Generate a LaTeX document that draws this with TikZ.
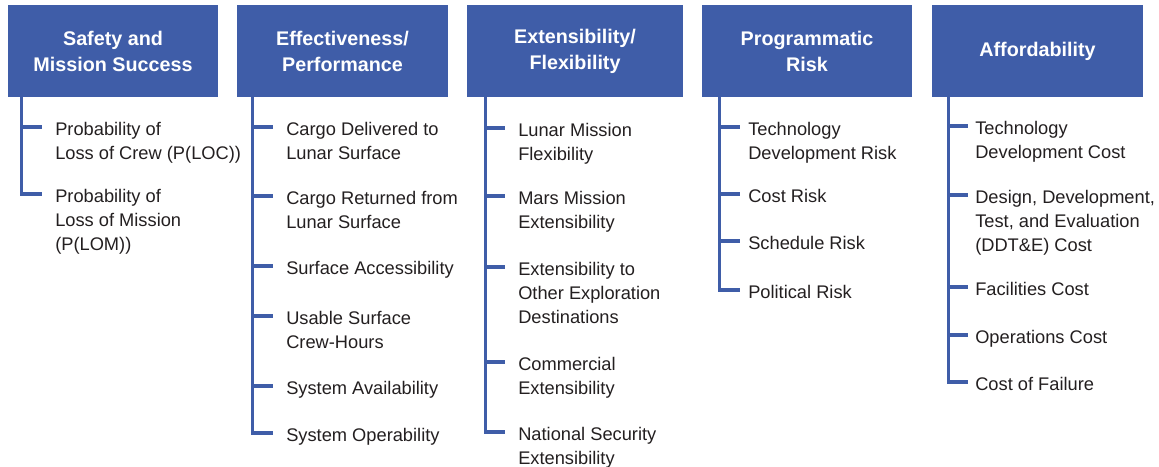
\documentclass[tikz,border=0pt]{standalone}
\usepackage{fontspec}
\setmainfont{Liberation Sans}
\usetikzlibrary{calc}
\definecolor{hblue}{HTML}{3F5DA8}
\definecolor{ink}{HTML}{231F20}
\tikzset{
  hdr/.style={fill=hblue, draw=none, text=white, align=center, inner sep=0pt,
    minimum height=69pt, font=\fontsize{14.8}{19.5}\selectfont\bfseries},
  item/.style={anchor=base west, inner sep=0pt, text=ink,
    font=\fontsize{13.7}{18}\selectfont},
  link/.style={draw=hblue, line width=2.4pt},
  trunk/.style={draw=hblue, line width=2.6pt}
}
\newcommand{\lines}[1]{\begin{tabular}[t]{@{}l@{}}#1\end{tabular}}
\begin{document}
\begin{tikzpicture}[x=0.75pt,y=-0.75pt]
\useasboundingbox (0,0) rectangle (1159,467);
% headers
\node[hdr, minimum width=157.5pt] (h1) at (113,51) {Safety and\\Mission Success};
\node[hdr, minimum width=158.25pt] (h2) at (342.5,51) {Effectiveness/\\Performance};
\node[hdr, minimum width=162pt] (h3) at (575,51) {Extensibility/\\Flexibility};
\node[hdr, minimum width=157.5pt] (h4) at (807,51) {Programmatic\\Risk};
\node[hdr, minimum width=158.25pt] (h5) at (1037.5,51) {Affordability};
% column 1
\node[item] (a1) at (55,135) {\lines{Probability of\\Loss of Crew (P(LOC))}};
\node[item] (a2) at (55,202) {\lines{Probability of\\Loss of Mission\\(P(LOM))}};
% column 2
\node[item] (b1) at (286,135) {\lines{Cargo Delivered to\\Lunar Surface}};
\node[item] (b2) at (286,204) {\lines{Cargo Returned from\\Lunar Surface}};
\node[item] (b3) at (286,274) {Surface Accessibility};
\node[item] (b4) at (286,324) {\lines{Usable Surface\\Crew-Hours}};
\node[item] (b5) at (286,394) {System Availability};
\node[item] (b6) at (286,441) {System Operability};
% column 3
\node[item] (c1) at (518,136) {\lines{Lunar Mission\\Flexibility}};
\node[item] (c2) at (518,204) {\lines{Mars Mission\\Extensibility}};
\node[item] (c3) at (518,275) {\lines{Extensibility to\\Other Exploration\\Destinations}};
\node[item] (c4) at (518,370) {\lines{Commercial\\Extensibility}};
\node[item] (c5) at (518,440) {\lines{National Security\\Extensibility}};
% column 4
\node[item] (d1) at (748,135) {\lines{Technology\\Development Risk}};
\node[item] (d2) at (748,202) {Cost Risk};
\node[item] (d3) at (748,249) {Schedule Risk};
\node[item] (d4) at (748,298) {Political Risk};
% column 5
\node[item] (e1) at (975,134) {\lines{Technology\\Development Cost}};
\node[item] (e2) at (975,203) {\lines{Design, Development,\\Test, and Evaluation\\(DDT\&E) Cost}};
\node[item] (e3) at (975,295) {Facilities Cost};
\node[item] (e4) at (975,343) {Operations Cost};
\node[item] (e5) at (975,390) {Cost of Failure};
% trunks
\coordinate (t1) at ($(h1.south west)+(14,0)$);
\coordinate (t2) at ($(h2.south west)+(16,0)$);
\coordinate (t3) at ($(h3.south west)+(19,0)$);
\coordinate (t4) at ($(h4.south west)+(18,0)$);
\coordinate (t5) at ($(h5.south west)+(17,0)$);
\draw[trunk] (t1) |- ($(a2.base west)+(-13,-8)$);
\draw[trunk] (t2) |- ($(b6.base west)+(-13,-8)$);
\draw[trunk] (t3) |- ($(c5.base west)+(-13,-8)$);
\draw[trunk] (t4) |- ($(d4.base west)+(-8,-8)$);
\draw[trunk] (t5) |- ($(e5.base west)+(-7,-8)$);
% ticks
\foreach \n in {a1}{\draw[link] (t1 |- {$(\n.base west)+(0,-8)$}) -- ($(\n.base west)+(-13,-8)$);}
\foreach \n in {b1,b2,b3,b4,b5}{\draw[link] (t2 |- {$(\n.base west)+(0,-8)$}) -- ($(\n.base west)+(-13,-8)$);}
\foreach \n in {c1,c2,c3,c4}{\draw[link] (t3 |- {$(\n.base west)+(0,-8)$}) -- ($(\n.base west)+(-13,-8)$);}
\foreach \n in {d1,d2,d3}{\draw[link] (t4 |- {$(\n.base west)+(0,-8)$}) -- ($(\n.base west)+(-8,-8)$);}
\foreach \n in {e1,e2,e3,e4}{\draw[link] (t5 |- {$(\n.base west)+(0,-8)$}) -- ($(\n.base west)+(-7,-8)$);}
\end{tikzpicture}
\end{document}
